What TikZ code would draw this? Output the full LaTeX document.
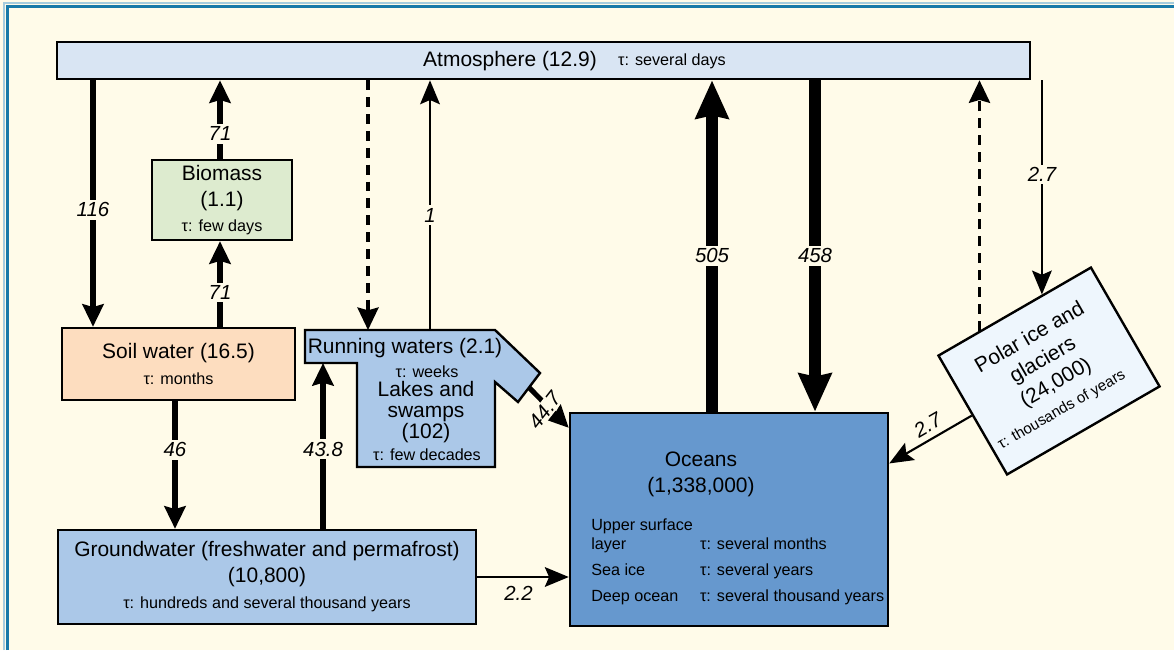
\documentclass[tikz,border=0pt]{standalone}
\usepackage{fontspec}
\setmainfont{Liberation Sans}
\usetikzlibrary{positioning, arrows.meta, calc}

\definecolor{bgcream}{HTML}{FFFBE9}
\definecolor{frameblue}{HTML}{1779A8}
\definecolor{framelight}{HTML}{A5CCDD}
\definecolor{atmfill}{HTML}{D9E5F3}
\definecolor{biofill}{HTML}{DDEBCF}
\definecolor{soilfill}{HTML}{FDDDBF}
\definecolor{landfill}{HTML}{ABC8E8}
\definecolor{oceanfill}{HTML}{6698CE}
\definecolor{icefill}{HTML}{EEF6FD}

\newcommand{\resfont}{\fontsize{14.9}{18.5}\selectfont}
\newcommand{\taufont}{\fontsize{11.5}{14}\selectfont}

\begin{document}
\begin{tikzpicture}[
    x=0.025cm, y=-0.025cm,
    box/.style={
        rectangle, draw=black, line width=1.7pt, align=center,
        inner sep=0pt, font=\resfont
    },
    txt/.style={inner sep=0pt, align=center, font=\resfont},
    tau/.style={inner sep=0pt, font=\taufont},
    flow/.style={line width=3.6pt, -{Stealth[length=16pt, width=15pt, inset=2pt]}},
    bigflow/.style={line width=9pt, -{Stealth[length=27pt, width=23pt, inset=2pt]}},
    thinflow/.style={line width=1.5pt, -{Stealth[length=17pt, width=14pt, inset=3pt]}},
    dflow/.style={line width=2.3pt, dash pattern=on 7pt off 5pt,
        -{Stealth[length=16pt, width=15pt, inset=2pt]}},
    qty/.style={fill=bgcream, inner sep=2pt, font=\fontsize{14.5}{16}\selectfont\itshape},
]

% Background and frame
\fill[bgcream] (0,0) rectangle (1174,650);
\useasboundingbox (0,0) rectangle (1174,650);
\draw[framelight, line width=1pt] (4,650) -- (4,3) -- (1174,3);
\draw[frameblue, line width=2.4pt] (7.5,650) -- (7.5,6.5) -- (1174,6.5);

% Atmosphere bar
\node[box, fill=atmfill, minimum width=24.33cm, minimum height=0.93cm] (atm) at (543.5,60.5) {};
\node[txt] (atmname) at (510,61) {Atmosphere (12.9)};
\node[tau] (atmtau) at (672,61) {τ: several days};

% Land reservoirs
\node[box, fill=biofill, minimum width=3.5cm, minimum height=2cm] (bio) at (222,200)
    {Biomass\\(1.1)\\[-1pt]\taufont τ: few days};
\node[box, fill=soilfill, minimum width=5.83cm, minimum height=1.8cm] (soil) at (178.5,364)
    {Soil water (16.5)\\\taufont τ: months};
\node[box, fill=landfill, minimum width=10.45cm, minimum height=2.35cm] (ground) at (267,577)
    {Groundwater (freshwater and permafrost)\\(10,800)\\\taufont τ: hundreds and several thousand years};

% Running waters, lakes and swamps
\coordinate (rw1) at (305,330);
\coordinate (rw2) at (495,330);
\coordinate (rw3) at (540,373);
\coordinate (rw4) at (518,402);
\coordinate (rw5) at (495,382);
\coordinate (rw6) at (495,467);
\coordinate (rw7) at (357,467);
\coordinate (rw8) at (357,363);
\coordinate (rw9) at (305,363);
\draw[line width=1.7pt, fill=landfill] (rw1) -- (rw2) -- (rw3) -- (rw4) -- (rw5) -- (rw6)
    -- (rw7) -- (rw8) -- (rw9) -- cycle;
\node[txt] (rwname) at (405,348) {Running waters (2.1)};
\node[tau] (rwtau) at (427,372) {τ: weeks};
\node[txt, font=\fontsize{14.9}{15}\selectfont] (lakename) at (426,412) {Lakes and\\swamps\\(102)};
\node[tau] (laketau) at (427,455) {τ: few decades};

% Oceans
\node[box, fill=oceanfill, minimum width=7.95cm, minimum height=5.33cm] (ocean) at (729,519.5) {};
\node[txt] (oceanname) at (701,474) {Oceans\\(1,338,000)};
\node[tau, anchor=north west] (oceanlayers) at (591,516)
    {\begin{tabular}{@{}p{2.72cm}@{}l@{}}
        Upper surface & \\
        layer & τ: several months \\[4.3pt]
        Sea ice & τ: several years \\[4.5pt]
        Deep ocean & τ: several thousand years
    \end{tabular}};

% Polar ice
\node[box, fill=icefill, rotate=30, minimum width=4.4cm, minimum height=3.43cm] (ice) at (1049,371)
    {Polar ice and\\glaciers\\(24,000)\\[-1pt]\fontsize{10.8}{13}\selectfont τ: thousands of years\hspace*{12pt}};

% Flow columns
\coordinate (c116) at (93,0);
\coordinate (cbio) at (220,0);
\coordinate (c46) at (175,0);
\coordinate (c438) at (323,0);
\coordinate (cprec) at (368,0);
\coordinate (crun) at (430,0);
\coordinate (cevap) at (712,0);
\coordinate (cprecip) at (815,0);
\coordinate (ice_sub) at ($(ice.north west)!0.276!(ice.north east)$);
\coordinate (ice_snow) at ($(ice.north west)!0.68!(ice.north east)$);
\coordinate (rw_out) at ($(rw3)!0.5!(rw4)$);
\coordinate (ocean_rw_in) at ($(ocean.north west)!0.075!(ocean.south west)$);
\coordinate (ocean_ice_in) at ($(ocean.north east)!0.24!(ocean.south east)$);

% Land fluxes
\draw[flow] (atm.south -| c116) -- node[qty, pos=0.526] {116} (soil.north -| c116);
\draw[flow] (bio.north -| cbio) -- node[qty, pos=0.32] {71} (atm.south -| cbio);
\draw[flow] (soil.north -| cbio) -- node[qty, pos=0.4] {71} (bio.south -| cbio);
\draw[flow] (soil.south -| c46) -- node[qty, pos=0.38] {46} (ground.north -| c46);
\draw[flow] (ground.north -| c438) -- node[qty, pos=0.48] {43.8} (c438 |- rw9);
\draw[dflow] (atm.south -| cprec) -- (cprec |- rw1);
\draw[thinflow] (crun |- rw1) -- node[qty, pos=0.46] {1} (atm.south -| crun);

% Runoff to the oceans
\draw[flow] (rw_out) -- node[qty, rotate=52, pos=0.4, inner sep=1pt, xshift=-3.5pt, yshift=-3pt] {44.7} (ocean_rw_in);
\draw[thinflow] (ground.east) -- node[qty, fill=none, below=4pt, pos=0.45] {2.2} (ground.east -| ocean.west);

% Ocean exchange
\draw[bigflow] (ocean.north -| cevap) -- node[qty, pos=0.47] {505} (atm.south -| cevap);
\draw[bigflow] (atm.south -| cprecip) -- node[qty, pos=0.53] {458} (ocean.north -| cprecip);

% Polar ice exchange
\draw[dflow] (ice_sub) -- (ice_sub |- atm.south);
\draw[thinflow] (ice_snow |- atm.south) -- node[qty, pos=0.44] {2.7} (ice_snow);
\draw[thinflow] (ice.west) -- node[qty, fill=none, sloped, above=2pt, pos=0.45] {2.7} (ocean_ice_in);

\end{tikzpicture}
\end{document}
